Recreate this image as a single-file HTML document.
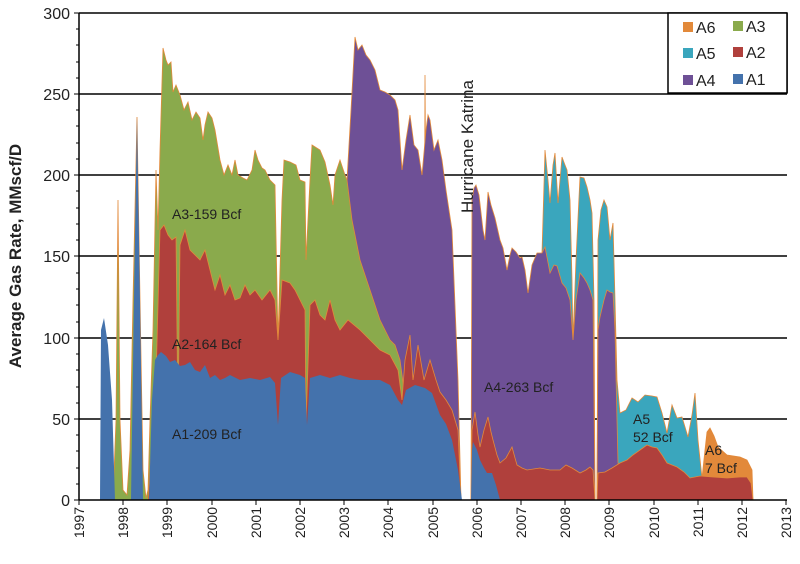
<!DOCTYPE html>
<html><head><meta charset="utf-8"><style>
html,body{margin:0;padding:0;background:#fff;}
svg{display:block;font-family:"Liberation Sans",sans-serif;}
</style></head><body>
<svg width="800" height="564" viewBox="0 0 800 564" xmlns="http://www.w3.org/2000/svg">
<g stroke="#000" stroke-width="1.5">
<line x1="79" y1="13" x2="787" y2="13"/>
<line x1="79" y1="94" x2="787" y2="94"/>
<line x1="79" y1="175" x2="787" y2="175"/>
<line x1="79" y1="256" x2="787" y2="256"/>
<line x1="79" y1="338" x2="787" y2="338"/>
<line x1="79" y1="419" x2="787" y2="419"/>
</g>
<g stroke="#e2893a" stroke-width="0.8">
<polygon fill="#3aa6bd" points="541,500 542,253 545,150 548,180 550,203 553,165 555,153 558,203 560,180 562,157 565,165 567,170 570,200 572,280 573,340 576,260 580,177 584,178 587,187 590,200 592,213 594,300 595,500"/>
<polygon fill="#3aa6bd" points="597,500 598,240 601,210 604,200 607,207 610,240 613,223 615,300 617,380 620,413 626,410 632,398 638,402 645,395 652,396 657,397 662,413 667,433 672,405 677,418 682,417 688,437 692,415 695,393 698,440 702,478 702,500"/>
<polygon fill="#e2893a" points="423,500 424,380 425,75 427,380 428,500"/>
<polygon fill="#e2893a" points="700,500 702,478 705,450 707,432 710,428 714,436 718,447 727,455 740,457 747,460 752,470 753,500"/>
<polygon fill="#6e5096" points="347,500 347,180 351,110 355,37 358,50 362,45 366,55 370,60 375,70 380,90 385,92 390,95 395,100 398,110 402,170 406,140 410,115 414,145 418,150 422,175 426,130 428,115 430,120 434,150 438,140 442,160 446,190 452,230 458,380 461,500"/>
<polygon fill="#6e5096" points="471,500 472,200 474,188 476,185 479,195 483,230 485,240 488,192 491,205 495,218 500,240 503,248 507,270 510,255 512,248 516,252 520,258 522,257 525,270 528,293 532,265 537,253 542,253 545,247 550,273 554,265 557,266 562,283 566,288 570,300 573,340 576,300 580,273 584,278 587,283 590,290 593,300 595,500"/>
<polygon fill="#6e5096" points="597,500 598,330 600,317 604,300 607,290 610,292 613,293 615,330 617,420 618,463 620,470 620,500"/>
<polygon fill="#8aaa4c" points="113,500 116,420 118,200 120,420 123,490 127,495 130,450 133,300 137,117 140,300 143,470 146,498 148,490 150,420 153,330 156,170 158,230 160,150 163,48 166,60 168,65 171,62 173,92 176,85 180,95 184,110 188,102 192,120 196,112 200,118 203,140 205,125 208,112 212,118 215,130 220,160 224,175 228,165 232,175 235,160 238,175 243,178 247,180 252,170 255,150 258,160 262,168 265,170 270,180 275,185 278,340 282,200 284,160 290,162 296,165 300,180 305,182 306,260 310,180 312,145 320,150 325,162 330,185 333,205 335,175 340,160 345,175 347,180 352,220 360,260 370,290 380,320 390,340 395,345 400,360 404,390 404,500"/>
<polygon fill="#b0403c" points="148,500 152,440 156,380 160,230 164,225 168,235 172,240 176,237 178,425 180,245 185,230 190,250 195,255 200,260 205,250 210,270 215,290 220,275 225,295 230,285 235,300 240,298 245,285 250,295 255,290 262,300 270,290 275,300 278,340 282,280 290,283 295,290 300,300 305,310 306,425 310,305 315,300 320,315 325,320 330,300 335,320 340,330 348,320 360,330 370,340 380,350 390,355 398,370 402,400 405,360 410,335 413,380 418,345 424,380 430,360 436,380 440,392 446,400 452,410 458,430 461,500"/>
<polygon fill="#b0403c" points="471,500 472,430 475,412 478,435 480,447 484,430 488,417 491,432 493,440 497,455 500,463 506,458 512,447 515,458 517,465 522,468 527,470 540,468 550,470 560,470 566,465 572,468 580,473 586,470 590,467 593,470 595,500"/>
<polygon fill="#b0403c" points="597,500 598,473 605,472 612,468 620,463 627,460 633,455 640,450 647,445 652,447 657,448 662,455 667,463 672,465 677,467 684,472 690,478 700,476 713,477 727,478 740,477 747,477 751,483 753,500"/>
</g>
<polygon fill="#4472ac" points="100,500 101,330 104,318 108,345 112,400 115,500 131,500 134,300 137,117 140,300 143,500 149,500 152,400 155,360 158,355 161,352 166,356 170,362 175,360 180,366 185,365 190,362 195,370 200,372 205,365 210,378 215,375 220,380 225,378 230,375 240,380 250,378 260,380 270,377 275,383 278,425 281,378 290,372 300,375 305,378 307,425 310,378 320,375 330,378 340,375 350,378 360,380 370,380 380,380 390,385 398,400 402,405 406,390 415,385 425,388 432,393 440,415 446,424 452,440 458,470 462,500"/>
<polygon fill="#4472ac" points="471,500 472,450 473,442 477,450 480,460 484,468 487,473 492,473 496,485 500,500"/>
<g stroke="#000" stroke-width="1.5">
<line x1="79" y1="13" x2="79" y2="500"/>
<line x1="79" y1="500" x2="787" y2="500"/>
<line x1="787" y1="13" x2="787" y2="93"/>
</g>
<g stroke="#000" stroke-width="1">
<path d="M74 500H79M74 419H79M74 338H79M74 256H79M74 175H79M74 94H79M74 13H79"/>
<path d="M76 484H79M76 468H79M76 451H79M76 435H79M76 403H79M76 387H79M76 370H79M76 354H79M76 322H79M76 305H79M76 289H79M76 273H79M76 240H79M76 224H79M76 208H79M76 191H79M76 159H79M76 143H79M76 126H79M76 110H79M76 78H79M76 62H79M76 45H79M76 29H79"/>
<path d="M79 500V505M123 500V505M167 500V505M212 500V505M256 500V505M300 500V505M344 500V505M388 500V505M433 500V505M477 500V505M521 500V505M565 500V505M609 500V505M654 500V505M698 500V505M742 500V505M786 500V505"/>
</g>
<g font-size="16" text-anchor="end" fill="#222">
<text x="70" y="506">0</text><text x="70" y="425">50</text><text x="70" y="344">100</text><text x="70" y="262">150</text><text x="70" y="181">200</text><text x="70" y="100">250</text><text x="70" y="19">300</text>
</g>
<g font-size="14" text-anchor="end" fill="#222">
<text transform="translate(84,507) rotate(-90)">1997</text>
<text transform="translate(128,507) rotate(-90)">1998</text>
<text transform="translate(172,507) rotate(-90)">1999</text>
<text transform="translate(217,507) rotate(-90)">2000</text>
<text transform="translate(261,507) rotate(-90)">2001</text>
<text transform="translate(305,507) rotate(-90)">2002</text>
<text transform="translate(349,507) rotate(-90)">2003</text>
<text transform="translate(393,507) rotate(-90)">2004</text>
<text transform="translate(438,507) rotate(-90)">2005</text>
<text transform="translate(482,507) rotate(-90)">2006</text>
<text transform="translate(526,507) rotate(-90)">2007</text>
<text transform="translate(570,507) rotate(-90)">2008</text>
<text transform="translate(614,507) rotate(-90)">2009</text>
<text transform="translate(659,507) rotate(-90)">2010</text>
<text transform="translate(703,507) rotate(-90)">2011</text>
<text transform="translate(747,507) rotate(-90)">2012</text>
<text transform="translate(791,507) rotate(-90)">2013</text>
</g>
<text transform="translate(21,256) rotate(-90)" text-anchor="middle" font-size="17" font-weight="bold" fill="#222">Average Gas Rate, MMscf/D</text>
<text transform="translate(473,213) rotate(-90)" font-size="17" fill="#222" textLength="133">Hurricane Katrina</text>
<g font-size="14" fill="#222">
<text x="172" y="219">A3-159 Bcf</text>
<text x="172" y="349">A2-164 Bcf</text>
<text x="172" y="439">A1-209 Bcf</text>
<text x="484" y="392">A4-263 Bcf</text>
<text x="633" y="424">A5</text><text x="633" y="442">52 Bcf</text>
<text x="705" y="455">A6</text><text x="705" y="473">7 Bcf</text>
</g>
<rect x="668" y="13" width="119" height="80" fill="#fff" stroke="#000" stroke-width="1.5"/>
<g font-size="16" fill="#222">
<rect x="683" y="22" width="10" height="10" fill="#e2893a"/><text x="696" y="33">A6</text>
<rect x="733" y="21" width="10" height="10" fill="#8aaa4c"/><text x="746" y="32">A3</text>
<rect x="683" y="48" width="10" height="10" fill="#3aa6bd"/><text x="696" y="59">A5</text>
<rect x="733" y="47" width="10" height="10" fill="#b0403c"/><text x="746" y="58">A2</text>
<rect x="683" y="75" width="10" height="10" fill="#6e5096"/><text x="696" y="86">A4</text>
<rect x="733" y="74" width="10" height="10" fill="#4472ac"/><text x="746" y="85">A1</text>
</g>
</svg>
</body></html>
